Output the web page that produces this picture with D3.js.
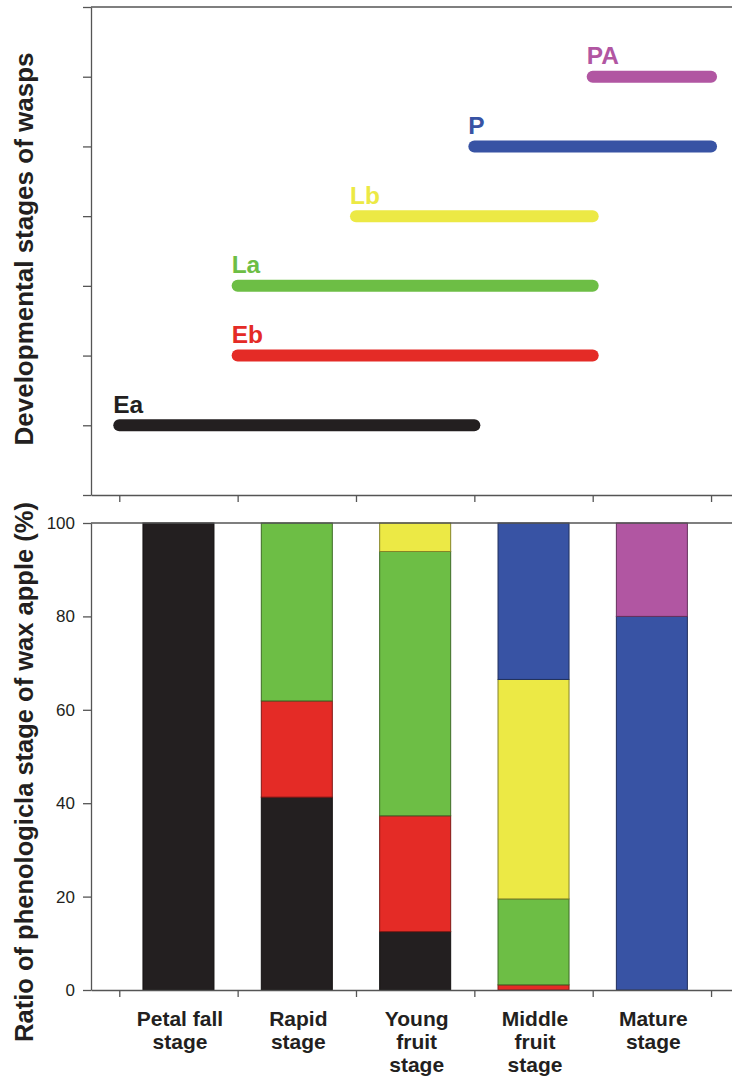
<!DOCTYPE html>
<html>
<head>
<meta charset="utf-8">
<script src="https://cdn.jsdelivr.net/npm/d3@7"></script>
<style>
  html, body { margin: 0; padding: 0; background: #fff; }
  svg { display: block; font-family: "Liberation Sans", Arial, Helvetica, sans-serif; }
</style>
</head>
<body>
<svg id="chart" width="732" height="1081"></svg>
<script>
// ---- Data ----
const wasps = ["Ea", "Eb", "La", "Lb", "P", "PA"];
const waspColors = ["#231f20", "#e42b26", "#6dbe45", "#ece945", "#3853a4", "#b156a2"];
const waspStart = [1, 2, 2, 3, 4, 5];   // fruit-stage index where wasp stage begins
const waspEnd   = [4, 5, 5, 5, 6, 6];   // fruit-stage index where wasp stage ends
const waspLevel = [1, 2, 3, 4, 5, 6];   // vertical position in top panel

const stages = ["Petal fall stage", "Rapid stage", "Young fruit stage", "Middle fruit stage", "Mature stage"];
const stageLabelLines = [["Petal fall", "stage"], ["Rapid", "stage"], ["Young", "fruit", "stage"], ["Middle", "fruit", "stage"], ["Mature", "stage"]];

const valEa = [100, 41.3, 12.5, 0, 0];
const valEb = [0, 20.6, 24.8, 1.1, 0];
const valLa = [0, 38.1, 56.6, 18.4, 0];
const valLb = [0, 0, 6.1, 47.0, 0];
const valP  = [0, 0, 0, 33.5, 80];
const valPA = [0, 0, 0, 0, 20];

const topTicksY = [0, 1, 2, 3, 4, 5, 6, 7];
const xTicks = [1, 2, 3, 4, 5, 6];
const pctTicks = [0, 20, 40, 60, 80, 100];

const yTitleTop = "Developmental stages of wasps";
const yTitleBottom = "Ratio of phenologicla stage of wax apple (%)";

// ---- Layout ----
const svg = d3.select("#chart");
const axisColor = "#555";
const left = 91, right = 732;

const x = d3.scaleLinear().domain([0.761, 6.177]).range([left, right]);
const yTop = d3.scaleLinear().domain([0, 7]).range([495, 7]);
const yBot = d3.scaleLinear().domain([0, 100]).range([990, 523]);
const xBand = d3.scaleBand().domain(stages).range([x(1), x(6)]).paddingInner(0.4).paddingOuter(0.2);

function styleAxis(g) {
  g.selectAll("path.domain").attr("stroke", axisColor).attr("stroke-width", 1.3);
  g.selectAll(".tick line").attr("stroke", axisColor).attr("stroke-width", 1.3);
}

// ---- Top panel ----
svg.append("line").attr("x1", left).attr("x2", right).attr("y1", yTop(7)).attr("y2", yTop(7))
  .attr("stroke", axisColor).attr("stroke-width", 1.3);

svg.append("g").attr("transform", `translate(${left},0)`)
  .call(d3.axisLeft(yTop).tickValues(topTicksY).tickFormat("").tickSize(8).tickSizeOuter(0))
  .call(styleAxis);

svg.append("g").attr("transform", `translate(0,${yTop(0)})`)
  .call(d3.axisBottom(x).tickValues(xTicks).tickFormat("").tickSize(7).tickSizeOuter(0))
  .call(styleAxis);

const spans = wasps.map((w, i) => ({ name: w, color: waspColors[i], s: waspStart[i], e: waspEnd[i], lvl: waspLevel[i] }));

svg.append("g").selectAll("line").data(spans).join("line")
  .attr("x1", d => x(d.s)).attr("x2", d => x(d.e))
  .attr("y1", d => yTop(d.lvl)).attr("y2", d => yTop(d.lvl))
  .attr("stroke", d => d.color).attr("stroke-width", 12).attr("stroke-linecap", "round");

svg.append("g").selectAll("text").data(spans).join("text")
  .attr("x", d => x(d.s) - 6).attr("y", d => yTop(d.lvl) - 12.5)
  .attr("fill", d => d.color).attr("font-size", 24.5).attr("font-weight", "bold")
  .text(d => d.name);

svg.append("text")
  .attr("transform", `translate(33,249) rotate(-90)`)
  .attr("text-anchor", "middle").attr("font-size", 26).attr("font-weight", "bold").attr("fill", "#231f20")
  .text(yTitleTop);

// ---- Bottom panel ----
const table = stages.map((s, i) => ({ stage: s, Ea: valEa[i], Eb: valEb[i], La: valLa[i], Lb: valLb[i], P: valP[i], PA: valPA[i] }));
const series = d3.stack().keys(wasps)(table);
const colorOf = d3.scaleOrdinal().domain(wasps).range(waspColors);

const segs = [];
series.forEach(sr => sr.forEach(p => { if (p[1] - p[0] > 0) segs.push({ key: sr.key, stage: p.data.stage, y0: p[0], y1: p[1] }); }));

svg.append("g").selectAll("rect").data(segs).join("rect")
  .attr("x", d => xBand(d.stage)).attr("width", xBand.bandwidth())
  .attr("y", d => yBot(d.y1)).attr("height", d => yBot(d.y0) - yBot(d.y1))
  .attr("fill", d => colorOf(d.key))
  .attr("stroke", d => d3.color(colorOf(d.key)).darker(1.6))
  .attr("stroke-width", 1);

svg.append("line").attr("x1", left).attr("x2", right).attr("y1", yBot(100)).attr("y2", yBot(100))
  .attr("stroke", axisColor).attr("stroke-width", 1.3);

const yAx = svg.append("g").attr("transform", `translate(${left},0)`)
  .call(d3.axisLeft(yBot).tickValues(pctTicks).tickSize(8).tickPadding(8).tickSizeOuter(0))
  .call(styleAxis);
yAx.selectAll("text").attr("font-size", 17).attr("fill", "#231f20")
  .attr("font-family", "'Liberation Sans', Arial, sans-serif");

svg.append("g").attr("transform", `translate(0,${yBot(0)})`)
  .call(d3.axisBottom(x).tickValues(xTicks).tickFormat("").tickSize(7).tickSizeOuter(0))
  .call(styleAxis);

const lbl = svg.append("g").selectAll("text").data(stages).join("text")
  .attr("text-anchor", "middle").attr("font-size", 21).attr("font-weight", "bold").attr("fill", "#231f20");
lbl.each(function (d, i) {
  const t = d3.select(this);
  stageLabelLines[i].forEach((line, j) => {
    t.append("tspan").attr("x", xBand(d) + xBand.bandwidth() / 2 + 1.5).attr("y", 1026 + j * 23).text(line);
  });
});

svg.append("text")
  .attr("transform", `translate(33,${(497 + 1047) / 2}) rotate(-90)`)
  .attr("text-anchor", "middle").attr("font-size", 25.5).attr("font-weight", "bold").attr("fill", "#231f20")
  .text(yTitleBottom);
</script>
</body>
</html>
